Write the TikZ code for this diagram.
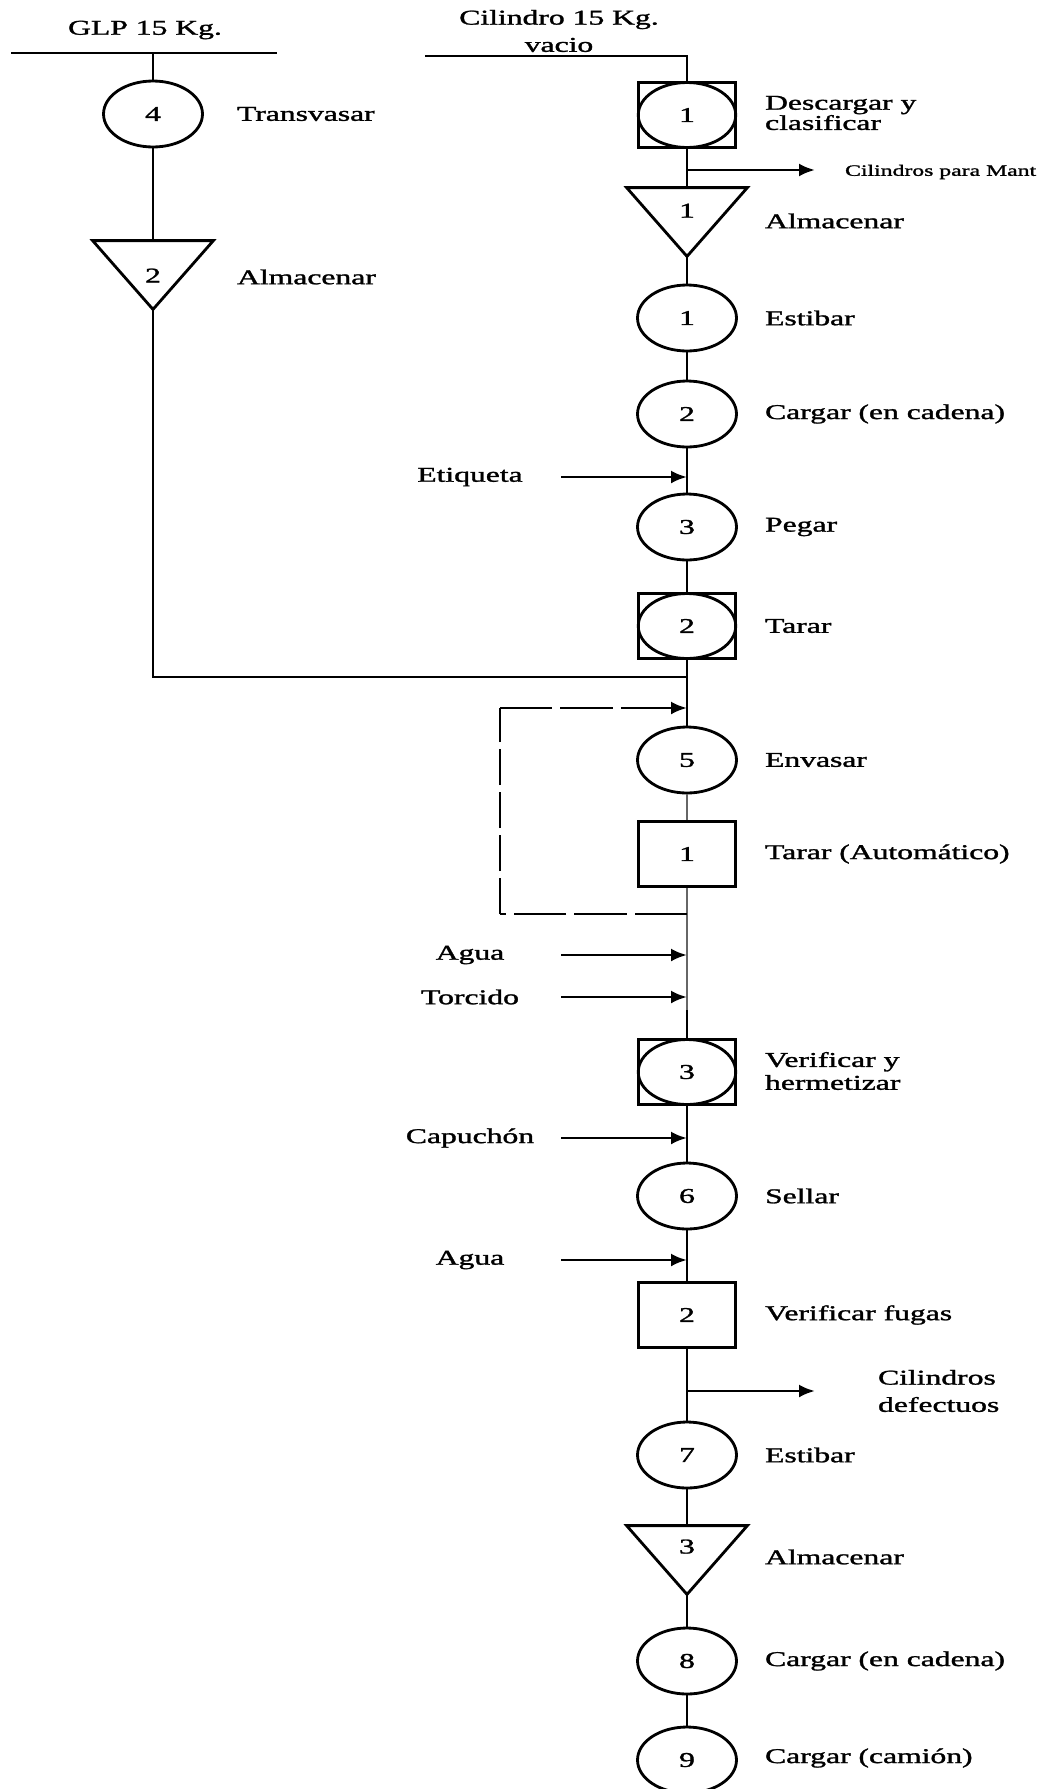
\documentclass[tikz,border=0pt]{standalone}
\usepackage{fontspec}
\setmainfont{Liberation Serif}
\newfontfamily\heavyserif{Liberation Serif}[FakeBold=1.2]
\usepackage{tikz}
\usetikzlibrary{arrows.meta}

\begin{document}
\begin{tikzpicture}[x=0.02cm, y=-0.02cm, line width=1.6pt,
every node/.style={font=\heavyserif\fontsize{12}{13}\selectfont},
oper/.style={draw, circle, minimum size=1.32cm, inner sep=0pt, xscale=1.5},
insp/.style={draw, rectangle, minimum size=1.3cm, inner sep=0pt, xscale=1.5},
alm/.style={minimum width=2.36cm, minimum height=1.32cm, inner sep=0pt},
num/.style={xscale=1.5, inner sep=0pt},
txt/.style={anchor=west, xscale=1.5, inner sep=0pt, align=left},
arr/.style={-{Latex[length=0.32cm,width=0.26cm]}},
hdash/.style={dash pattern=on 1.05cm off 0.16cm},
vdash/.style={dash pattern=on 0.72cm off 0.14cm}]
\def\cx{687}
\useasboundingbox (0,0) rectangle (1043,1789);

%left branch
\node[num] (glp) at (145,30) {GLP 15 Kg.};
\coordinate (g1) at (11,53);
\coordinate (g2) at (277,53);
\coordinate (g3) at (153,53);
\node[oper] (t4) at (153,114) {4};
\node[alm] (a2) at (153,275) {};
\coordinate (mg) at (\cx,677);

%main branch
\node[num, align=center, font=\heavyserif\fontsize{12}{15.5}\selectfont] (cil) at (559,31) {Cilindro 15 Kg.\\vacio};
\coordinate (v0) at (425,56);
\coordinate (v1) at (\cx,56);
\node[insp] (d1) at (\cx,115) {};
\node[oper, minimum size=1.3cm] (d1c) at (d1) {1};
\node[alm] (a1) at (\cx,222) {};
\foreach \n/\y/\k in {e1/318/1, c2/414/2, p3/527/3, e5/760/5, s6/1196/6, es7/1455/7, c8/1661/8, c9/1760/9}
	\node[oper] (\n) at (\cx,\y) {\k};
\node[insp] (t2) at (\cx,626) {};
\node[oper, minimum size=1.3cm] (t2c) at (t2) {2};
\node[insp] (ta1) at (\cx,854) {1};
\node[insp] (v3) at (\cx,1072) {};
\node[oper, minimum size=1.3cm] (v3c) at (v3) {3};
\node[insp] (vf2) at (\cx,1315) {2};
\node[alm] (a3) at (\cx,1560) {};

%triangles for storage
\foreach \t in {a1,a2,a3}
	\draw (\t.north west) -- (\t.north east) -- (\t.south) -- cycle;
\node[num] (a1n) at ([yshift=-0.46cm]a1.north) {1};
\node[num] (a2n) at ([yshift=-0.7cm]a2.north) {2};
\node[num] (a3n) at ([yshift=-0.42cm]a3.north) {3};

%lines between steps
\draw (g1) -- (g2);
\draw (g3) -- (t4.north) (t4.south) -- (a2.north);
\draw (a2.south) |- (mg);
\draw (v0) -- (v1) -- (d1.north);
\foreach \a/\b in {d1/a1, a1/e1, e1/c2, c2/p3, p3/t2, t2/e5, v3/s6, s6/vf2, vf2/es7, es7/a3, a3/c8, c8/c9}
	\draw (\a.south) -- (\b.north);
\coordinate (gy) at (\cx,1010);
\draw[black!60] (e5.south) -- (ta1.north) (ta1.south) -- (gy);
\draw (gy) -- (v3.north);

%return loop
\coordinate (r0) at (\cx,914);
\coordinate (rb) at (500,914);
\coordinate (rt) at (500,708);
\coordinate (r2) at (\cx,708);
\draw[hdash] (r0) -- (rb);
\draw[vdash] (rb) -- (rt);
\draw[hdash, arr] (rt) -- (r2);

%inputs
\foreach \n/\t/\y in {et/Etiqueta/477, ag/Agua/955, to/Torcido/997, ca/Capuchón/1138, aw/Agua/1260}{
	\node[num] (\n) at (470,\y) {\t};
	\coordinate (\n0) at (561,\y);
	\coordinate (\n1) at (\cx,\y);
	\draw[arr] (\n0) -- (\n1);
}

%outputs
\coordinate (m0) at (\cx,170);
\coordinate (m1) at (815,170);
\draw[arr] (m0) -- (m1);
\node[txt, font=\heavyserif\fontsize{9}{10}\selectfont] (mant) at (843,172) {Cilindros para Mant};
\coordinate (f0) at (\cx,1391);
\coordinate (f1) at (815,1391);
\draw[arr] (f0) -- (f1);
\node[txt, font=\heavyserif\fontsize{12}{15.5}\selectfont] (def) at (876,1391) {Cilindros\\defectuos};

%step names
\node[txt] (l114) at (235,114) {Transvasar};
\node[txt] (l277) at (235,277) {Almacenar};
\node[txt, font=\heavyserif\fontsize{12}{11.5}\selectfont] (l113) at (763,113) {Descargar y\\clasificar};
\node[txt] (l1071) at (763,1071) {Verificar y\\hermetizar};
\foreach \y/\t in {221/Almacenar, 318/Estibar, 414/{Cargar (en cadena)}, 527/Pegar, 626/Tarar, 760/Envasar, 854/{Tarar (Automático)}, 1196/Sellar, 1315/{Verificar fugas}, 1455/Estibar, 1557/Almacenar, 1661/{Cargar (en cadena)}, 1758/{Cargar (camión)}}
	\node[txt] (l\y) at (763,\y) {\t};
\end{tikzpicture}
\end{document}
